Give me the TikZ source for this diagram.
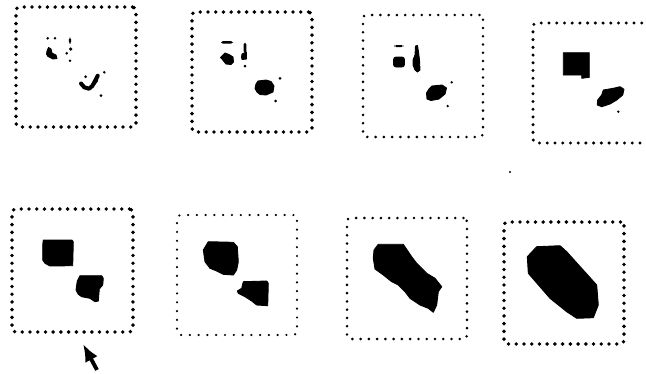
\documentclass[tikz,border=0pt]{standalone}
\usepackage{tikz}
\usetikzlibrary{arrows.meta,calc}

\begin{document}
\begin{tikzpicture}[
    x=0.02cm,y=-0.02cm,
    frame/.style={draw,rounded corners=2pt,line width=2.2pt,line cap=round,
                  dash pattern=on 0pt off 4.4pt,inner sep=0pt,
                  minimum width=2.4cm,minimum height=2.4cm},
    thinframe/.style={frame,line width=1.6pt,dash pattern=on 0pt off 4.7pt},
    blob/.style={fill=black,draw=black,line width=0.5pt,line join=round},
    speck/.style={fill=black},
    pointer/.style={-{Latex[length=10pt,width=8pt]},line width=2.2pt},
]
\useasboundingbox (0,0) rectangle (646,373);

% ---- top row of frames ----
\node[frame] (f1) at (76,67) {};
\node[frame] (f2) at (252,72) {};
\node[thinframe,minimum height=2.44cm] (f3) at (423,76) {};
\node[frame,line width=1.9pt] (f4) at (593,83) {};

% ---- bottom row of frames ----
\node[frame,minimum width=2.42cm,minimum height=2.46cm] (f5) at (72.5,270.5) {};
\node[thinframe,line width=1.4pt,dash pattern=on 0pt off 5pt] (f6) at (237,275) {};
\node[thinframe,minimum height=2.42cm] (f7) at (407,278.5) {};
\node[frame,minimum height=2.44cm] (f8) at (564,283) {};

% frame 1: scattered pixels
\foreach \p/\r in {(47.7,38.3)/1.4,(55,38.3)/1.4,(70.7,49)/1.8,(66.7,53.3)/1.4,(70,60.7)/1.4,
                   (85.7,76.7)/1.5,(104.3,72.3)/1.4,(101,95.7)/1.5}
  \fill[speck] \p circle[radius=\r];
\fill[rounded corners=1] (68.8,37.5) rectangle (71.2,43.8);
\draw[blob] (48.5,47.5) -- (51,49) -- (52,53) -- (56,55) -- (57,58.5) -- (53,59)
  -- (48,56.5) -- (46.5,54) -- (47,51) -- cycle;
\draw[line width=2.3pt,line cap=round,line join=round] (81,83.5) -- (84.3,87.3)
  -- (89,88.7) -- (92.3,86) -- (95,81) -- (97.7,75.7);
\draw[blob] (95.5,77) -- (98,75) -- (97.5,81) -- (94.5,85) -- cycle;

% frame 2
\fill[rounded corners=1] (221,41) rectangle (233,43.6);
\draw[blob] (225,53) -- (229,54.5) -- (233,57) -- (233.5,62) -- (231,64.5) -- (226,64)
  -- (222,59) -- (220.5,57.5) -- cycle;
\fill[rounded corners=1] (243.5,42.5) rectangle (246.3,53);
\draw[blob] (242,54) -- (246.5,52) -- (246.5,59) -- (242,59.5) -- (241.5,57) -- cycle;
\draw[blob] (258,81) -- (266,80) -- (271,81.5) -- (274,86) -- (273,92) -- (266,95)
  -- (260,94.5) -- (257,92) -- (255,88.5) -- (256,84) -- cycle;
\foreach \p in {(245,66),(280,78.3),(275.7,101)}
  \fill[speck] \p circle[radius=1.5];

% frame 3
\fill[rounded corners=1] (394.3,45) rectangle (403.3,47);
\draw[blob,rounded corners=1.5] (393.5,57) rectangle (404.5,67);
\draw[blob] (415.5,46) -- (417.5,45.5) -- (418.5,52) -- (419.5,60) -- (420,70) -- (417.5,72)
  -- (415,70) -- (413,65) -- (413,60) -- (415,55) -- cycle;
\draw[blob] (432,86) -- (442,85) -- (446.5,88) -- (445,94) -- (439,99) -- (431,100.5)
  -- (427,99) -- (426.5,93) -- (429,89) -- cycle;
\foreach \p in {(451.7,82.3),(447.7,106)}
  \fill[speck] \p circle[radius=1.3];

% frame 4
\draw[blob] (563.3,52.7) -- (589.3,52.7) -- (589.3,77.3) -- (581.7,78.3) -- (581.7,75)
  -- (563.3,75) -- cycle;
\draw[blob] (603.3,90) -- (613.3,88.3) -- (620,86.7) -- (624,89.3) -- (622.7,95)
  -- (616.7,100) -- (610,104) -- (601.7,106.7) -- (597.3,105) -- (597.7,100)
  -- (601.7,95) -- cycle;
\fill[speck] (618.3,111.7) circle[radius=1.3];
\fill[speck] (510,172) circle[radius=1.2];

% frame 5
\draw[blob] (43.3,240) -- (71.7,240) -- (73.3,241.7) -- (72.7,265.7) -- (50,266)
  -- (45,263.3) -- (42.7,260) -- (42.7,245) -- cycle;
\draw[blob] (80,275.7) -- (101.7,275.7) -- (103.3,278.3) -- (102.7,285) -- (99.3,289)
  -- (98.3,301) -- (95,301.7) -- (90,298.3) -- (81.7,296.7) -- (78.3,294.3)
  -- (76,290) -- (77.3,281) -- cycle;

% frame 6
\draw[blob] (208.3,241.7) -- (233.3,242.3) -- (237.3,246.7) -- (238.3,261.7) -- (236.7,270)
  -- (233.3,275) -- (223.3,274.3) -- (216.7,271) -- (210,268.3) -- (205,261.7)
  -- (203.3,250) -- cycle;
\draw[blob] (243.3,281.7) -- (266.7,281) -- (268.3,283.3) -- (267.7,305.7) -- (256.7,305)
  -- (251.7,301) -- (245,296.7) -- (238.3,293.3) -- (237.3,291) -- (241.7,288.3) -- cycle;

% frame 7: merged blob
\draw[blob] (378.3,244.3) -- (403.3,244.3) -- (411.7,256.7) -- (416.7,263.3) -- (426.7,273.3)
  -- (435,278.3) -- (441.7,286.7) -- (438.3,291.7) -- (436.7,305) -- (433.3,312.3)
  -- (428.3,308.3) -- (420,305) -- (410,298.3) -- (405,291.7) -- (398.3,285)
  -- (391.7,281.7) -- (383.3,275) -- (375,269) -- (373.3,258.3) -- (374,250) -- cycle;

% frame 8: merged blob
\draw[blob] (536.7,246.7) -- (560,245.7) -- (566.7,251.7) -- (596.7,285) -- (598.3,305)
  -- (593.3,317.7) -- (576.7,318.3) -- (566.7,311.7) -- (550,298.3) -- (528.3,273.3)
  -- (527.3,256.7) -- cycle;

% ---- pointer under frame 5 ----
\coordinate (aim) at ($(f5.south)+(10.5,10)$);
\coordinate (tail) at ($(f5.south)+(24.5,36)$);
\draw[pointer] (tail) -- (aim);

\end{tikzpicture}
\end{document}
